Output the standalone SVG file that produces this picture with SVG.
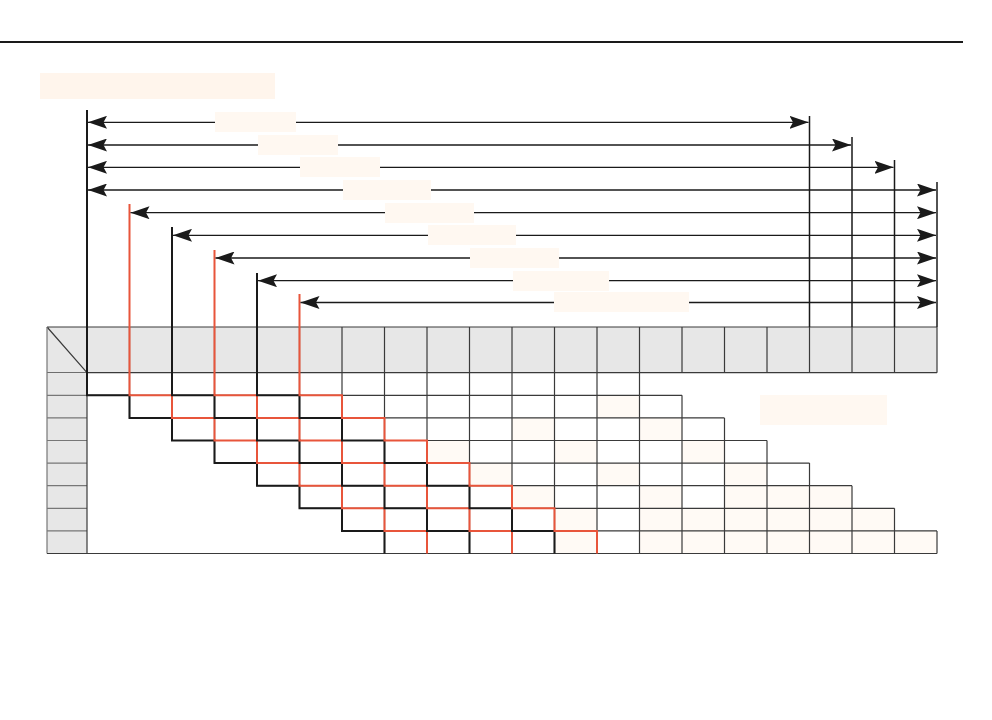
<svg xmlns="http://www.w3.org/2000/svg" width="992" height="720" viewBox="0 0 992 720">
<style>
.grid{fill:none;stroke:#3a3a3a;stroke-width:1.2}
.gray{fill:#e7e7e7}
.lcol{fill:none;stroke:#777;stroke-width:1.2}
.blk{fill:none;stroke:#1a1a1a;stroke-width:2}
.tick{fill:none;stroke:#1a1a1a;stroke-width:1.5}
.red{fill:none;stroke:#e8553b;stroke-width:2}
.arr{stroke:#1a1a1a;stroke-width:1.3;marker-start:url(#ah);marker-end:url(#ah)}
.lab{fill:#fff8f1}
.pc{fill:#fffaf5}
</style>
<defs>
<marker id="ah" markerUnits="userSpaceOnUse" markerWidth="20" markerHeight="13" refX="19" refY="6.5" orient="auto-start-reverse">
<path d="M0,0 L19,6.5 L0,13 L3.5,6.5 z" fill="#1a1a1a"/>
</marker>
</defs>
<rect width="992" height="720" fill="#fff"/>
<line x1="0" y1="42" x2="963" y2="42" stroke="#1a1a1a" stroke-width="2"/>
<rect id="title" x="40" y="73" width="235" height="26" fill="#fff5ec"/>

<g id="header">
<rect class="gray" x="47" y="327" width="890" height="45.7"/>
<path class="grid" d="M47,327 H937 M47,372.7 H937 M47,327 L87,372.7 M87,327 V372.7 M129.5,327 V372.7 M172,327 V372.7 M214.5,327 V372.7 M257,327 V372.7 M299.5,327 V372.7 M342,327 V372.7 M384.5,327 V372.7 M427,327 V372.7 M469.5,327 V372.7 M512,327 V372.7 M554.5,327 V372.7 M597,327 V372.7 M639.5,327 V372.7 M682,327 V372.7 M724.5,327 V372.7 M767,327 V372.7 M809.5,327 V372.7 M852,327 V372.7 M894.5,327 V372.7 M937,327 V372.7"/>
</g>

<g id="left-column">
<rect class="gray" x="47" y="372.7" width="40" height="180.8"/>
<path class="lcol" d="M47,327 V553.5 M47,395.3 H87 M47,417.9 H87 M47,440.5 H87 M47,463.1 H87 M47,485.7 H87 M47,508.3 H87 M47,530.9 H87"/>
</g>

<g id="body">
<g id="pale-cells">
<rect class="pc" x="597" y="395.3" width="42.5" height="22.6"/>
<rect class="pc" x="512" y="417.9" width="42.5" height="22.6"/>
<rect class="pc" x="639.5" y="417.9" width="42.5" height="22.6"/>
<rect class="pc" x="427" y="440.5" width="42.5" height="22.6"/>
<rect class="pc" x="554.5" y="440.5" width="42.5" height="22.6"/>
<rect class="pc" x="682" y="440.5" width="42.5" height="22.6"/>
<rect class="pc" x="469.5" y="463.1" width="42.5" height="22.6"/>
<rect class="pc" x="597" y="463.1" width="42.5" height="22.6"/>
<rect class="pc" x="724.5" y="463.1" width="42.5" height="22.6"/>
<rect class="pc" x="512" y="485.7" width="42.5" height="22.6"/>
<rect class="pc" x="639.5" y="485.7" width="42.5" height="22.6"/>
<rect class="pc" x="724.5" y="485.7" width="127.5" height="22.6"/>
<rect class="pc" x="554.5" y="508.3" width="42.5" height="22.6"/>
<rect class="pc" x="639.5" y="508.3" width="255" height="22.6"/>
<rect class="pc" x="554.5" y="530.9" width="42.5" height="22.6"/>
<rect class="pc" x="639.5" y="530.9" width="297.5" height="22.6"/>
</g>
<path class="grid" d="M87,372.7 V553.5 M47,553.5 H937
M87,395.3 H682 M129.5,417.9 H724.5 M172,440.5 H767 M214.5,463.1 H809.5 M257,485.7 H852 M299.5,508.3 H894.5 M342,530.9 H937
M129.5,372.7 V417.9 M172,372.7 V440.5 M214.5,372.7 V463.1 M257,372.7 V485.7 M299.5,372.7 V508.3 M342,372.7 V530.9
M384.5,372.7 V553.5 M427,372.7 V553.5 M469.5,372.7 V553.5 M512,372.7 V553.5 M554.5,372.7 V553.5 M597,372.7 V553.5 M639.5,372.7 V553.5
M682,395.3 V553.5 M724.5,417.9 V553.5 M767,440.5 V553.5 M809.5,463.1 V553.5 M852,485.7 V553.5 M894.5,508.3 V553.5 M937,530.9 V553.5"/>
</g>
<rect id="note" class="lab" x="760" y="395" width="127" height="30"/>

<g id="connectors">
<g id="right-ticks">
<path class="tick" d="M809.5,116 V327 M852,137 V327 M894.5,160 V327 M937,182 V327"/>
</g>
<g id="steps">
<path class="blk" d="M87,110 V395.3 H129.5 V417.9 H172 V440.5 H214.5 V463.1 H257 V485.7 H299.5 V508.3 H342 V530.9 H384.5 V553.5"/>
<path class="red" d="M129.5,204 V395.3 H172 V417.9 H214.5 V440.5 H257 V463.1 H299.5 V485.7 H342 V508.3 H384.5 V530.9 H427 V553.5"/>
<path class="blk" d="M172,227 V395.3 H214.5 V417.9 H257 V440.5 H299.5 V463.1 H342 V485.7 H384.5 V508.3 H427 V530.9 H469.5 V553.5"/>
<path class="red" d="M214.5,250 V395.3 H257 V417.9 H299.5 V440.5 H342 V463.1 H384.5 V485.7 H427 V508.3 H469.5 V530.9 H512 V553.5"/>
<path class="blk" d="M257,273 V395.3 H299.5 V417.9 H342 V440.5 H384.5 V463.1 H427 V485.7 H469.5 V508.3 H512 V530.9 H554.5 V553.5"/>
<path class="red" d="M299.5,294 V395.3 H342 V417.9 H384.5 V440.5 H427 V463.1 H469.5 V485.7 H512 V508.3 H554.5 V530.9 H597 V553.5"/>
</g>
<g id="arrows">
<line class="arr" x1="88" y1="122.3" x2="808.5" y2="122.3"/>
<line class="arr" x1="88" y1="145" x2="851" y2="145"/>
<line class="arr" x1="88" y1="167.3" x2="893.5" y2="167.3"/>
<line class="arr" x1="88" y1="190" x2="936" y2="190"/>
<line class="arr" x1="130.5" y1="212.7" x2="936" y2="212.7"/>
<line class="arr" x1="173" y1="235.3" x2="936" y2="235.3"/>
<line class="arr" x1="215.5" y1="258" x2="936" y2="258"/>
<line class="arr" x1="258" y1="280.7" x2="936" y2="280.7"/>
<line class="arr" x1="300.5" y1="302.5" x2="936" y2="302.5"/>
</g>
</g>

<g id="labels">
<rect class="lab" x="215" y="112" width="81" height="20"/>
<rect class="lab" x="258" y="135" width="80" height="20"/>
<rect class="lab" x="300" y="157" width="80" height="20"/>
<rect class="lab" x="343" y="180" width="88" height="20"/>
<rect class="lab" x="385" y="203" width="89" height="20"/>
<rect class="lab" x="428" y="225" width="88" height="20"/>
<rect class="lab" x="470" y="248" width="89" height="20"/>
<rect class="lab" x="513" y="271" width="96" height="20"/>
<rect class="lab" x="554" y="292" width="135" height="20"/>
</g>
</svg>
